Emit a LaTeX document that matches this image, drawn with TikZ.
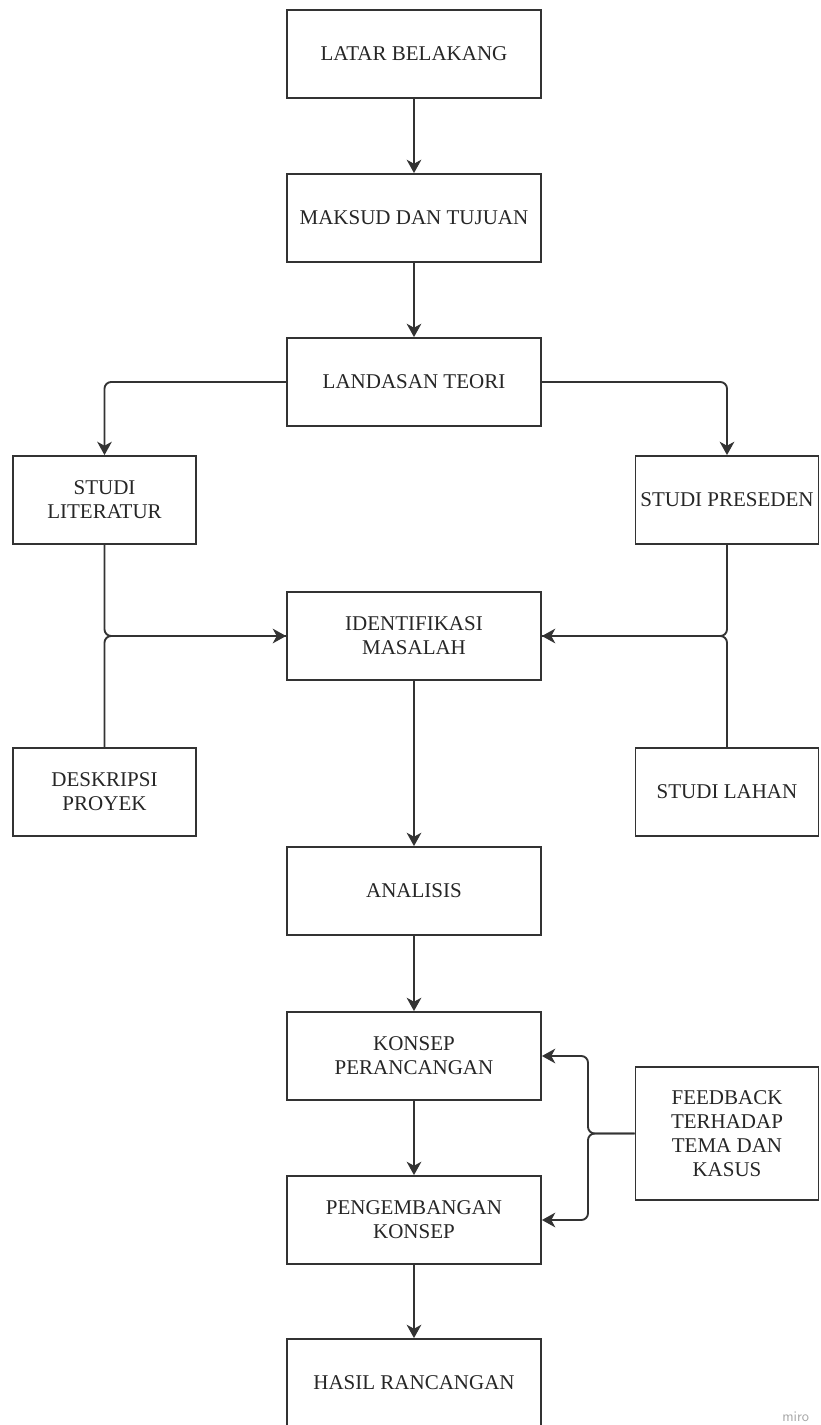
\documentclass[tikz,border=0pt]{standalone}
\usepackage{fontspec}
\setmainfont{Liberation Serif}
\usetikzlibrary{arrows.meta}
\begin{document}
\begin{tikzpicture}[x=0.75pt,y=-0.75pt,
  box/.style={draw=black!80, line width=1.4pt, rectangle, minimum width=190.5pt, minimum height=66pt, align=center, inner sep=1pt, font=\fontsize{15.75}{18}\selectfont, text=black!85},
  sbox/.style={box, minimum width=137.25pt},
  arr/.style={draw=black!80, line width=1.4pt, -{Stealth[length=10pt,width=11pt,inset=3pt]}},
  ln/.style={draw=black!80, line width=1.4pt},
  rc/.style={rounded corners=5pt}]
\useasboundingbox (0,0) rectangle (821,1425);
\fill[white] (0,0) rectangle (821,1425);

\node[box] (latar) at (414,54) {LATAR BELAKANG};
\node[box] (maksud) at (414,218) {MAKSUD DAN TUJUAN};
\node[box] (landasan) at (414,382) {LANDASAN TEORI};
\node[sbox] (lit) at (104.5,500) {STUDI\\LITERATUR};
\node[sbox] (pres) at (727,500) {STUDI PRESEDEN};
\node[box] (ident) at (414,636) {IDENTIFIKASI\\MASALAH};
\node[sbox] (desk) at (104.5,792) {DESKRIPSI\\PROYEK};
\node[sbox] (lahan) at (727,792) {STUDI LAHAN};
\node[box] (analisis) at (414,891) {ANALISIS};
\node[box] (konsep) at (414,1056) {KONSEP\\PERANCANGAN};
\node[sbox, minimum height=99.75pt] (fb) at (727,1133.5) {FEEDBACK\\TERHADAP\\TEMA DAN\\KASUS};
\node[box] (pengem) at (414,1220) {PENGEMBANGAN\\KONSEP};
\node[box] (hasil) at (414,1383) {HASIL RANCANGAN};
\node[anchor=base west, inner sep=0pt, text=black!35, font=\sffamily\fontsize{11}{11}\selectfont] (miro) at (782,1421) {miro};

\draw[arr] (latar) -- (maksud);
\draw[arr] (maksud) -- (landasan);
\draw[arr, rc] (landasan.west) -| (lit.north);
\draw[arr, rc] (landasan.east) -| (pres.north);
\draw[arr, rc] (lit.south) |- (ident.west);
\draw[ln, rc] (desk.north) |- (ident.west);
\draw[arr, rc] (pres.south) |- (ident.east);
\draw[ln, rc] (lahan.north) |- (ident.east);
\draw[arr] (ident) -- (analisis);
\draw[arr] (analisis) -- (konsep);
\draw[arr] (konsep) -- (pengem);
\draw[arr] (pengem) -- (hasil);
\coordinate (fbj) at (588,1133.5);
\draw[arr, rc] (fb.west) -- (fbj) |- (konsep.east);
\draw[arr, rc] (fb.west) -- (fbj) |- (pengem.east);
\end{tikzpicture}
\end{document}
